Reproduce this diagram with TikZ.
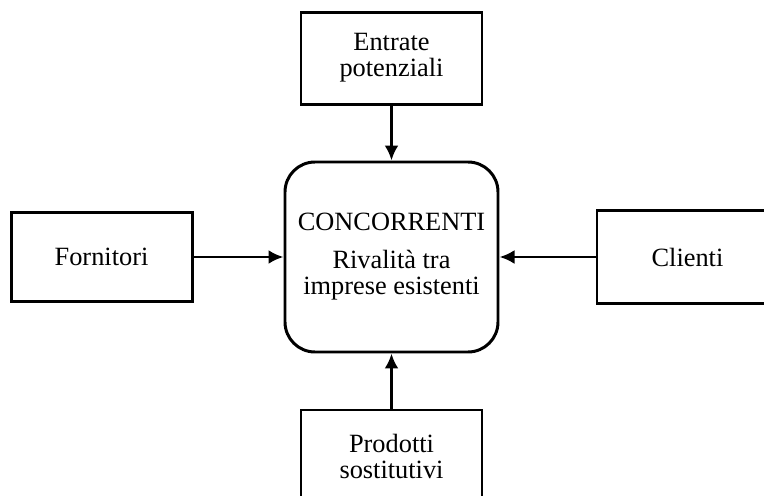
\documentclass[tikz,border=0pt]{standalone}
\usepackage{fontspec}
\setmainfont{Liberation Serif}
\usepackage{tikz}
\usetikzlibrary{arrows.meta,positioning}

\begin{document}
\begin{tikzpicture}[auto,>={Latex[length=0.3cm,width=0.28cm]},line width=1.7pt]
	\tikzstyle{block} = [draw, rectangle, align=center, minimum width=3.62cm, font=\fontsize{15}{14.8}\selectfont]
	\tikzstyle{core} = [draw, rectangle, rounded corners=0.6cm, align=center, minimum width=4.26cm, minimum height=3.8cm, font=\fontsize{15}{14.8}\selectfont]

	\useasboundingbox (-7.83,-4.76) rectangle (7.45,5.14);

	\node [core] (conc) {CONCORRENTI\\[6.8pt]Rivalità tra\\imprese esistenti};

	\node [block, minimum height=1.84cm, above = 1.1cm of conc] (entr) {Entrate\\potenziali};

	\node [block, minimum height=1.78cm, left = 1.8cm of conc] (forn) {Fornitori};

	\node [block, minimum height=1.86cm, right = 1.92cm of conc] (clie) {Clienti};

	\node [block, minimum height=1.84cm, below = 1.1cm of conc] (prod) {Prodotti\\sostitutivi};

	\draw [->] (entr) -- (conc);
	\draw [->] (forn) -- (conc);
	\draw [->] (clie) -- (conc);
	\draw [->] (prod) -- (conc);
\end{tikzpicture}
\end{document}
